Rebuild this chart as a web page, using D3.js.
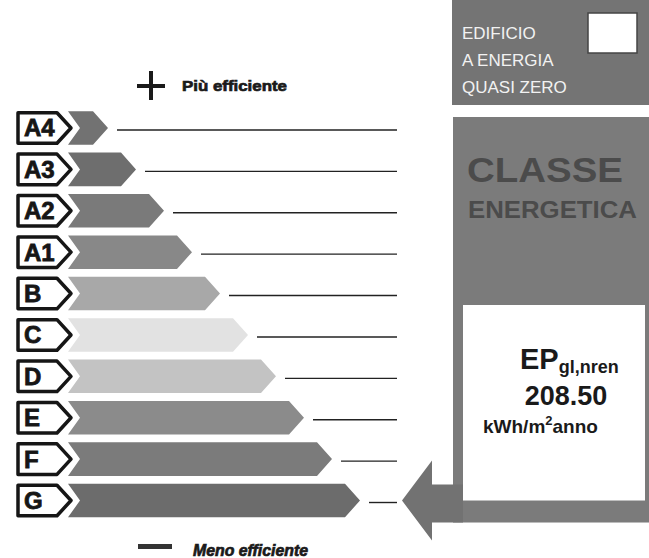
<!DOCTYPE html>
<html>
<head>
<meta charset="utf-8">
<script src="https://cdn.jsdelivr.net/npm/d3@7"></script>
<style>
html,body{margin:0;padding:0;background:#fff;}
svg{display:block;}
text{font-family:"Liberation Sans",Arial,sans-serif;}
</style>
</head>
<body>
<svg id="chart" width="649" height="558"></svg>
<script>
// ---- data ----
const classes   = ["A4","A3","A2","A1","B","C","D","E","F","G"];
const barLength = [1,2,3,4,5,6,7,8,9,10];
const barColors = ["#727272","#6e6e6e","#7a7a7a","#888888","#a8a8a8","#e2e2e2","#c3c3c3","#8b8b8b","#7b7b7b","#6c6c6c"];
const currentClass = "G";
const epValue = "208.50";
const nzebLines = ["EDIFICIO","A ENERGIA","QUASI ZERO"];
const classeLines = ["CLASSE","ENERGETICA"];

const svg = d3.select("#chart");

// scales
const y = d3.scaleBand().domain(classes).range([107.5, 521]).paddingInner(0.19).paddingOuter(0.09);
const x = d3.scaleLinear().domain([0, 10]).range([80, 360]);
const bw = y.bandwidth();

// header "+ Più efficiente"
svg.append("rect").attr("x",137).attr("y",84).attr("width",28).attr("height",4).attr("fill","#1a1a1a");
svg.append("rect").attr("x",149).attr("y",71).attr("width",4).attr("height",29).attr("fill","#1a1a1a");
svg.append("text").attr("x",182).attr("y",91).attr("font-size",15).attr("font-weight",900)
  .attr("stroke","#1a1a1a").attr("stroke-width",0.7)
  .attr("textLength",105).attr("lengthAdjust","spacingAndGlyphs").attr("fill","#1a1a1a").text("Più efficiente");

// footer "— Meno efficiente"
svg.append("rect").attr("x",138).attr("y",544).attr("width",34).attr("height",5).attr("fill","#333");
svg.append("text").attr("x",193).attr("y",556).attr("font-size",16).attr("font-weight",900).attr("font-style","italic")
  .attr("stroke","#1a1a1a").attr("stroke-width",0.7)
  .attr("textLength",115).attr("lengthAdjust","spacingAndGlyphs").attr("fill","#1a1a1a").text("Meno efficiente");

const rows = svg.append("g").selectAll("g").data(classes).join("g")
  .attr("transform", d => `translate(0,${y(d)})`);

// label boxes
rows.append("path")
  .attr("d", `M18,1.5 L57,1.5 L71,${bw/2} L57,${bw-1.5} L18,${bw-1.5} Z`)
  .attr("fill","#fff").attr("stroke","#161616").attr("stroke-width",3.5).attr("stroke-linejoin","round");
rows.append("text").attr("x",24).attr("y",bw/2+8.5).attr("font-size",24).attr("font-weight","bold")
  .attr("stroke","#161616").attr("stroke-width",0.8)
  .attr("fill","#161616").text(d => d);

// bars
rows.append("path")
  .attr("d", (d,i) => {
    const e = x(barLength[i]);
    return `M68,0 L${e-15},0 L${e},${bw/2} L${e-15},${bw} L68,${bw} L80,${bw/2} Z`;
  })
  .attr("fill", (d,i) => barColors[i]);

// guide lines
rows.append("line")
  .attr("x1", (d,i) => x(barLength[i]) + 9).attr("x2", 397)
  .attr("y1", bw/2 + 2).attr("y2", bw/2 + 2)
  .attr("stroke","#222").attr("stroke-width",1.4);

// NZEB box
svg.append("rect").attr("x",452).attr("y",0).attr("width",197).attr("height",105).attr("fill","#747474");
svg.append("rect").attr("x",588).attr("y",13).attr("width",49).attr("height",40).attr("fill","#fff").attr("stroke","#444").attr("stroke-width",1.5);
svg.append("g").selectAll("text").data(nzebLines).join("text")
  .attr("x",462).attr("y",(d,i)=>39+i*27).attr("font-size",17).attr("fill","#f2f2f2")
  .text(d=>d);

// class frame
const cy = y(currentClass) + bw/2;
svg.append("rect").attr("x",453).attr("y",117).attr("width",196).attr("height",cy+22-117).attr("fill","#7b7b7b");
svg.append("rect").attr("x",463).attr("y",305).attr("width",182).attr("height",cy-305).attr("fill","#fff");
svg.append("text").attr("x",467).attr("y",182).attr("font-size",35).attr("font-weight","bold").attr("fill","#4b4b4b")
  .attr("textLength",156).attr("lengthAdjust","spacingAndGlyphs").text(classeLines[0]);
svg.append("text").attr("x",468).attr("y",218).attr("font-size",24).attr("font-weight","bold").attr("fill","#4b4b4b")
  .attr("textLength",169).attr("lengthAdjust","spacingAndGlyphs").text(classeLines[1]);

// arrow pointing to current class
svg.append("path")
  .attr("d", `M402,${cy} L432,${cy-40} L432,${cy-16} L463,${cy-16} L463,${cy+22} L432,${cy+22} L432,${cy+40} Z`)
  .attr("fill","#727272");

// EP value
const ep = svg.append("text").attr("x",520).attr("y",369).attr("font-weight","bold").attr("fill","#1a1a1a");
ep.append("tspan").attr("font-size",29).text("EP");
ep.append("tspan").attr("font-size",18).attr("dy",4).text("gl,nren");
svg.append("text").attr("x",566).attr("y",405).attr("text-anchor","middle").attr("font-size",27).attr("font-weight","bold")
  .attr("fill","#1a1a1a").text(epValue);
const u = svg.append("text").attr("x",483).attr("y",433).attr("font-size",19).attr("font-weight","bold").attr("fill","#1a1a1a");
u.append("tspan").text("kWh/m");
u.append("tspan").attr("font-size",13).attr("dy",-8).text("2");
u.append("tspan").attr("dy",8).text("anno");
</script>
</body>
</html>
